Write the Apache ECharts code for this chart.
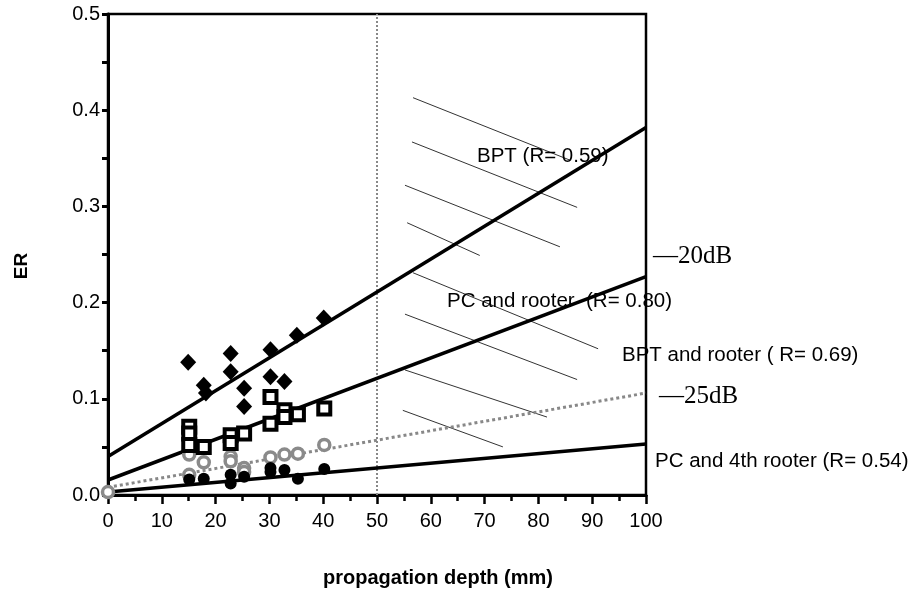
<!DOCTYPE html>
<html>
<head>
<meta charset="utf-8">
<script src="https://cdn.jsdelivr.net/npm/echarts@6/dist/echarts.min.js"></script>
<style>
html,body{margin:0;padding:0;background:#fff;}
#chart{width:915px;height:594px;}
</style>
</head>
<body>
<div id="chart"></div>
<script>
// ---- data ----
const xTickLabels = [0,10,20,30,40,50,60,70,80,90,100];
const yTickLabels = ['0.0','0.1','0.2','0.3','0.4','0.5'];

const bptX = [14.9,17.8,18.2,22.8,22.8,25.3,25.3,30.2,30.2,32.8,35.1,40.1];
const bptY = [0.138,0.114,0.106,0.147,0.128,0.111,0.092,0.151,0.123,0.118,0.166,0.184];

const pcRootX = [15.1,15.1,15.1,17.8,22.8,22.8,25.3,30.2,30.2,32.8,32.8,35.3,40.2];
const pcRootY = [0.071,0.064,0.052,0.050,0.062,0.054,0.064,0.102,0.074,0.088,0.081,0.084,0.090];

const bptRootX = [0,15.1,15.1,17.8,22.8,22.8,25.3,25.3,30.2,32.8,35.3,40.2];
const bptRootY = [0.003,0.042,0.021,0.034,0.040,0.035,0.028,0.024,0.039,0.042,0.043,0.052];

const pc4X = [15.1,17.8,22.8,22.8,25.3,30.2,30.2,32.8,35.3,40.2];
const pc4Y = [0.016,0.017,0.021,0.012,0.019,0.028,0.024,0.026,0.017,0.027];

// regression lines: [x0, y0, x1, y1]
const bptFit = [0, 0.040, 100, 0.382];
const pcRootFit = [0, 0.0156, 100, 0.227];
const bptRootFit = [0, 0.008, 100, 0.106];
const pc4Fit = [0, 0.003, 100, 0.053];

// vertical reference at 50 mm
const refX = 50;

// hatch strokes in the right region: [x0, y0, x1, y1]
const hatchLines = [
  [56.7,0.413,85.9,0.348],
  [56.5,0.367,87.2,0.299],
  [55.2,0.322,84.0,0.258],
  [55.6,0.283,69.1,0.249],
  [56.7,0.231,91.1,0.152],
  [55.2,0.188,87.2,0.120],
  [55.2,0.130,81.6,0.081],
  [54.8,0.088,73.4,0.050]
];

const annotations = [
  {text:'BPT (R= 0.59)', x:477, y:158},
  {text:'PC and rooter  (R= 0.80)', x:447, y:303},
  {text:'BPT and rooter ( R= 0.69)', x:622, y:357},
  {text:'PC and 4th rooter (R= 0.54)', x:655, y:463}
];
const dbLabels = [
  {text:'\u201420dB', x:653, y:258},
  {text:'\u201425dB', x:659, y:398}
];

// ---- build ----
const zip = (xs, ys) => xs.map((x, i) => [x, ys[i]]);
const seg = s => [[s[0], s[1]], [s[2], s[3]]];
const SANS = '"Liberation Sans", Arial, Helvetica, sans-serif';

const series = [];
hatchLines.forEach(h => series.push({
  type:'line', data:seg(h), symbol:'none', silent:true, z:1,
  lineStyle:{color:'#333', width:1}
}));
series.push({
  type:'line', data:[[refX,0],[refX,0.5]], symbol:'none', silent:true, z:1,
  lineStyle:{color:'#888', width:2, type:'dotted'}
});
series.push({type:'line', data:seg(bptFit), symbol:'none', z:2, lineStyle:{color:'#000', width:3.5}});
series.push({type:'line', data:seg(pcRootFit), symbol:'none', z:2, lineStyle:{color:'#000', width:3.5}});
series.push({type:'line', data:seg(bptRootFit), symbol:'none', z:2, lineStyle:{color:'#888', width:3, type:'dotted'}});
series.push({type:'line', data:seg(pc4Fit), symbol:'none', z:2, lineStyle:{color:'#000', width:3.5}});

series.push({type:'scatter', data:zip(bptRootX, bptRootY), symbol:'circle', symbolSize:11, z:3,
  itemStyle:{color:'#fff', borderColor:'#8a8a8a', borderWidth:3.5, opacity:1}});
series.push({type:'scatter', data:zip(pc4X, pc4Y), symbol:'circle', symbolSize:12, z:4,
  itemStyle:{color:'#000', opacity:1}});
series.push({type:'scatter', data:zip(pcRootX, pcRootY), symbol:'rect', symbolSize:12, z:5,
  itemStyle:{color:'#fff', borderColor:'#000', borderWidth:4, opacity:1}});
series.push({type:'scatter', data:zip(bptX, bptY), symbol:'diamond', symbolSize:[16,17], z:6,
  itemStyle:{color:'#000', opacity:1}});

const graphics = [];
annotations.forEach(a => graphics.push({type:'text', left:a.x, top:a.y - 12, z:10,
  style:{text:a.text, font:'20.5px ' + SANS, fill:'#000'}}));
dbLabels.forEach(a => graphics.push({type:'text', left:a.x, top:a.y - 14, z:10,
  style:{text:a.text, font:'25px "Liberation Serif", "Times New Roman", serif', fill:'#000'}}));
graphics.push({type:'text', left:323, top:568, z:10,
  style:{text:'propagation depth (mm)', font:'bold 20px ' + SANS, fill:'#000'}});
graphics.push({type:'text', x:22, y:266, rotation:Math.PI/2, z:10,
  style:{text:'ER', font:'bold 19px ' + SANS, fill:'#000', align:'center', verticalAlign:'middle'}});

const chart = echarts.init(document.getElementById('chart'), null, {renderer:'canvas'});
chart.setOption({
  animation:false,
  backgroundColor:'#fff',
  grid:{left:108, right:269, top:14, bottom:99, show:true, borderColor:'#000', borderWidth:2.5},
  xAxis:{
    type:'value', min:0, max:100, interval:10,
    axisLine:{show:true, onZero:false, lineStyle:{color:'#000', width:3}},
    axisTick:{show:true, inside:false, length:9, lineStyle:{color:'#000', width:2.5}},
    minorTick:{show:true, splitNumber:2, length:6, lineStyle:{color:'#000', width:2.5}},
    splitLine:{show:false},
    axisLabel:{margin:16, color:'#000', fontSize:20, fontFamily:SANS,
      formatter: v => String(xTickLabels[Math.round(v / 10)])}
  },
  yAxis:{
    type:'value', min:0, max:0.5, interval:0.1,
    axisLine:{show:true, onZero:false, lineStyle:{color:'#000', width:3}},
    axisTick:{show:true, inside:false, length:6, lineStyle:{color:'#000', width:3}},
    minorTick:{show:true, splitNumber:2, length:6, lineStyle:{color:'#000', width:3}},
    splitLine:{show:false},
    axisLabel:{margin:8, color:'#000', fontSize:20, fontFamily:SANS,
      formatter: v => yTickLabels[Math.round(v * 10)]}
  },
  graphic:graphics,
  series:series
});
</script>
</body>
</html>
